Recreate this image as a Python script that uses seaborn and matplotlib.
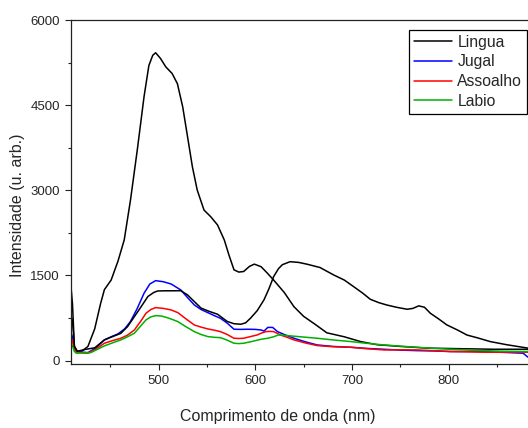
import matplotlib
matplotlib.use('Agg')
import matplotlib.pyplot as plt
import seaborn as sns
from matplotlib.ticker import MultipleLocator

### Values
lingua_wl = [409.5, 411, 413, 416, 421, 427, 434, 440, 444, 451, 458, 464.5, 471, 478, 485, 490, 494, 497, 502, 507.5,
             514, 519.5, 525, 530, 535, 540, 547, 554, 561, 568, 573, 578, 583, 588, 594, 599, 606, 612, 619, 630,
             640, 650, 661, 674, 692, 709, 726, 750, 778, 812, 846, 882]
lingua = [1300, 1000, 250, 160, 170, 250, 560, 1000, 1250, 1420, 1750, 2125, 2830, 3710, 4650, 5200, 5380, 5425, 5325, 5176,
          5060, 4880, 4470, 3944, 3415, 3005, 2653, 2535, 2390, 2125, 1850, 1600, 1560, 1570, 1660, 1700, 1655, 1550, 1420, 1200,
          950, 780, 650, 490, 420, 335, 280, 250, 220, 210, 200, 200]

lingua2_wl = [409.5, 411, 413, 416, 425, 434, 444, 452, 461, 468, 475, 482, 489, 495, 499, 506, 513, 523, 530, 537,
              544, 552, 561, 571, 578, 585, 590, 595, 602, 609, 614, 619, 624, 628, 636, 645, 654, 667, 681, 692,
              702, 711, 719, 728, 736, 746, 757, 763, 769, 775, 781, 790, 798, 809, 819, 830, 843, 860, 882]
lingua2 = [800, 700, 250, 165, 200, 225, 365, 420, 480, 600, 775, 950, 1130, 1200, 1227, 1230, 1230, 1232, 1157, 1040,
           925, 870, 817, 690, 650, 641, 665, 746, 880, 1070, 1260, 1480, 1620, 1690, 1743, 1730, 1697, 1640, 1510, 1420,
           1300, 1190, 1080, 1020, 980, 940, 905, 920, 965, 940, 835, 730, 630, 540, 450, 400, 335, 280, 220]

jugal_wl = [409.5, 411, 413, 415, 420, 427, 435, 444, 451, 458, 465, 471, 478, 485, 491, 497, 505, 513, 523, 530,
            537, 544, 551, 558, 564, 571, 578, 585, 592, 600, 606, 609, 613, 618, 623, 630, 640, 652, 664, 680,
            699, 715, 733, 750, 767, 785, 802, 820, 836, 857, 877, 882]
jugal = [480, 420, 200, 160, 150, 141, 220, 365, 420, 470, 560, 690, 920, 1187, 1350, 1409, 1390, 1350, 1245, 1110,
         981, 900, 845, 790, 746, 660, 553, 550, 553, 550, 540, 520, 585, 585, 511, 460, 394, 330, 276, 250,
         235, 215, 200, 185, 176, 170, 160, 160, 160, 145, 130, 60]

assoalho_wl = [409.5, 411, 413, 415, 420, 427, 435, 444, 452, 461, 468, 475, 481, 487, 492, 497, 505, 513, 520, 528,
               537, 544, 551, 558, 564, 571, 578, 583, 588, 595, 602, 606, 611, 615, 619, 626, 633, 640, 652, 664,
               680, 699, 715, 733, 750, 767, 785, 802, 820, 836, 857, 877, 882]
assoalho = [400, 350, 190, 160, 140, 130, 200, 306, 350, 394, 450, 540, 680, 834, 900, 934, 920, 893, 845, 740,
            628, 590, 558, 535, 511, 460, 394, 390, 394, 423, 452, 482, 511, 515, 511, 452, 410, 365, 310, 265,
            245, 235, 210, 188, 190, 188, 175, 160, 155, 148, 148, 148, 148]

labio_wl = [409.5, 411, 413, 415, 422, 430, 437, 444, 452, 461, 468, 475, 481, 487, 492, 497, 503, 509, 515, 520,
            528, 537, 544, 551, 558, 564, 571, 578, 583, 588, 596, 606, 613, 619, 624, 630, 637, 650, 664, 680,
            699, 715, 733, 750, 767, 785, 802, 820, 836, 857, 882]
labio = [300, 260, 160, 130, 135, 141, 200, 259, 310, 365, 420, 482, 600, 717, 770, 793, 785, 757, 720, 687,
         600, 511, 460, 423, 410, 405, 360, 306, 300, 306, 335, 376, 394, 420, 452, 445, 435, 415, 394, 365,
         335, 305, 276, 255, 235, 215, 200, 185, 176, 165, 160]

x_ticks = [500, 600, 700, 800]
y_ticks = [0, 1500, 3000, 4500, 6000]

sns.set_style('ticks')
plt.rcParams['font.family'] = ['Liberation Sans', 'DejaVu Sans']

fig = plt.figure(figsize=(5.28, 4.28), dpi=100)
ax = fig.add_axes([0.1345, 0.1495, 0.8655, 0.8035])

lw = 1.1
sns.lineplot(x=lingua_wl, y=lingua, color='black', linewidth=lw, label='Lingua', ax=ax)
sns.lineplot(x=jugal_wl, y=jugal, color='#0000ff', linewidth=lw, label='Jugal', ax=ax)
sns.lineplot(x=assoalho_wl, y=assoalho, color='#ff0000', linewidth=lw, label='Assoalho', ax=ax)
sns.lineplot(x=labio_wl, y=labio, color='#00b000', linewidth=lw, label='Labio', ax=ax)
sns.lineplot(x=lingua2_wl, y=lingua2, color='black', linewidth=lw, ax=ax)

ax.set_xlim(409.5, 882)
ax.set_ylim(-60, 6000)
ax.set_xticks(x_ticks)
ax.set_yticks(y_ticks)
ax.xaxis.set_minor_locator(MultipleLocator(50))
ax.yaxis.set_minor_locator(MultipleLocator(750))
ax.tick_params(which='major', direction='out', length=4.5, width=0.8, labelsize=9.5, pad=3.5, color='#222222')
ax.tick_params(which='minor', direction='out', length=2.5, width=0.8, color='#222222')

for side in ['left', 'bottom', 'top']:
    ax.spines[side].set_visible(True)
    ax.spines[side].set_linewidth(0.9)
    ax.spines[side].set_color('#222222')
ax.spines['right'].set_visible(False)

ax.set_xlabel('Comprimento de onda (nm)', fontsize=11.5)
ax.set_ylabel('Intensidade (u. arb.)', fontsize=11.5)
ax.xaxis.set_label_coords(0.453, -0.131)
ax.yaxis.set_label_coords(-0.10, 0.462)

leg = ax.legend(loc='upper right', bbox_to_anchor=(0.998, 0.93), bbox_transform=fig.transFigure,
                fontsize=11.3, frameon=True, fancybox=False, framealpha=1, edgecolor='black',
                borderaxespad=0, borderpad=0.3, labelspacing=0.3, handlelength=2.4, handletextpad=0.35)
leg.get_frame().set_linewidth(0.9)

plt.savefig('out.png', dpi=100)
plt.close()
